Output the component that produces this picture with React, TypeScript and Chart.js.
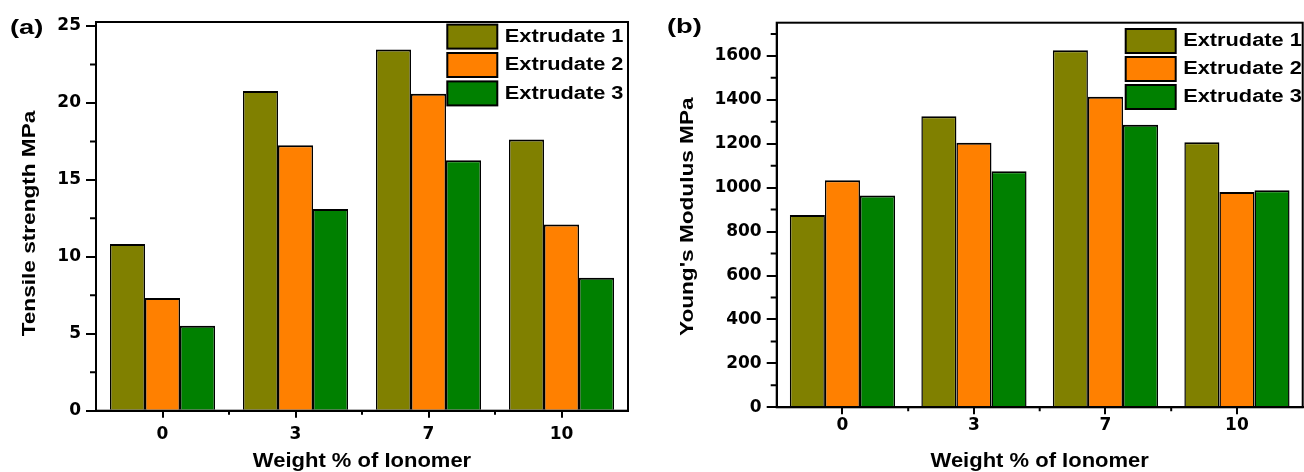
import React, { useEffect, useRef } from "react";
import { Chart, registerables } from "chart.js";
Chart.register(...registerables);

const CATEGORIES = ["0", "3", "7", "10"];
const SERIES_LABELS = ["Extrudate 1", "Extrudate 2", "Extrudate 3"];
const SERIES_COLORS = ["#808000", "#FF8000", "#008000"];

const TENSILE_EXTRUDATE_1 = [10.84, 20.78, 23.47, 17.62];
const TENSILE_EXTRUDATE_2 = [7.32, 17.25, 20.6, 12.1];
const TENSILE_EXTRUDATE_3 = [5.52, 13.1, 16.28, 8.64];
const TENSILE_TICKS = [0, 5, 10, 15, 20, 25];
const TENSILE_MINOR_TICKS = [2.5, 7.5, 12.5, 17.5, 22.5];

const MODULUS_EXTRUDATE_1 = [876, 1325, 1626, 1207];
const MODULUS_EXTRUDATE_2 = [1034, 1204, 1414, 980];
const MODULUS_EXTRUDATE_3 = [964, 1075, 1286, 988];
const MODULUS_TICKS = [0, 200, 400, 600, 800, 1000, 1200, 1400, 1600];
const MODULUS_MINOR_TICKS = [100, 300, 500, 700, 900, 1100, 1300, 1500, 1700];

const X_TITLE = "Weight % of Ionomer";
const FONT_FAMILY = "'Liberation Sans', Arial, sans-serif";
const TICK_FONT_FAMILY = "'DejaVu Sans', sans-serif";

function drawText(
  ctx: CanvasRenderingContext2D,
  text: string,
  x: number,
  y: number,
  size: number,
  stretch: number,
  align: CanvasTextAlign,
  rotation = 0
) {
  ctx.save();
  ctx.translate(x, y);
  ctx.rotate(rotation);
  ctx.scale(stretch, 1);
  ctx.font = `bold ${size}px ${FONT_FAMILY}`;
  ctx.fillStyle = "#000";
  ctx.textAlign = align;
  ctx.textBaseline = "middle";
  ctx.fillText(text, 0, 0);
  ctx.restore();
}

const decorPlugin = {
  id: "decor",
  afterDraw(chart: any, _args: any, o: any) {
    const { ctx, chartArea: a } = chart;
    const xs = chart.scales.x;
    const ys = chart.scales.y;
    ctx.save();
    ctx.strokeStyle = "#000";
    ctx.lineWidth = 2;
    ctx.strokeRect(a.left, a.top, a.right - a.left, a.bottom - a.top);
    ctx.beginPath();
    for (const v of o.yMinor) {
      const py = ys.getPixelForValue(v);
      ctx.moveTo(a.left - 6, py);
      ctx.lineTo(a.left, py);
    }
    const n = chart.data.labels.length;
    for (let i = 0; i < n - 1; i++) {
      const px = (xs.getPixelForValue(i) + xs.getPixelForValue(i + 1)) / 2;
      ctx.moveTo(px, a.bottom);
      ctx.lineTo(px, a.bottom + 4);
    }
    ctx.stroke();

    // legend
    chart.data.datasets.forEach((ds: any, i: number) => {
      const sx = a.right + o.legendDx;
      const sy = a.top + o.legendDy + i * o.legendStep;
      ctx.fillStyle = ds.backgroundColor;
      ctx.fillRect(sx, sy, 50, 24);
      ctx.lineWidth = 2;
      ctx.strokeStyle = "#000";
      ctx.strokeRect(sx, sy, 50, 24);
      drawText(ctx, ds.label, sx + 57.5, sy + 12.5, 18, 1.21, "left");
    });

    // axis titles
    drawText(ctx, o.yTitle, o.yTitleX, o.yTitleY, 19, 1.19, "center", -Math.PI / 2);
    drawText(ctx, X_TITLE, (a.left + a.right) / 2, o.xTitleY, 20, 1.1, "center");
    // panel label
    drawText(ctx, o.panel, o.panelX, o.panelY, 21, 1.3, "left");
    ctx.restore();
  },
};

function buildConfig(p: any) {
  return {
    type: "bar",
    data: {
      labels: CATEGORIES,
      datasets: p.series.map((vals: number[], i: number) => ({
        label: SERIES_LABELS[i],
        data: vals,
        backgroundColor: SERIES_COLORS[i],
        borderColor: "#000",
        borderWidth: { top: 2, left: 1.5, right: 1.5, bottom: 0 },
        borderSkipped: "start",
        barPercentage: 1,
        categoryPercentage: p.catPct,
      })),
    },
    options: {
      animation: false,
      responsive: false,
      devicePixelRatio: 1,
      layout: { padding: { left: 0, right: p.padRight, top: p.padTop, bottom: 0 } },
      plugins: {
        legend: { display: false },
        tooltip: { enabled: false },
        decor: p.decor,
      },
      scales: {
        x: {
          offset: true,
          grid: {
            display: true,
            drawOnChartArea: false,
            drawTicks: true,
            tickLength: 7,
            color: "#000",
            lineWidth: 2,
            offset: false,
          },
          border: { display: true, color: "#000", width: 2 },
          ticks: {
            color: "#000",
            padding: p.xTickPad,
            font: { family: TICK_FONT_FAMILY, size: 17, weight: "bold" },
            maxRotation: 0,
          },
          afterFit: (s: any) => {
            s.height = p.xHeight;
          },
        },
        y: {
          min: 0,
          max: p.yMax,
          grid: {
            display: true,
            drawOnChartArea: false,
            drawTicks: true,
            tickLength: 10,
            color: "#000",
            lineWidth: 2,
          },
          border: { display: true, color: "#000", width: 2 },
          ticks: {
            color: "#000",
            padding: 5,
            font: { family: TICK_FONT_FAMILY, size: 17, weight: "bold" },
            callback: (v: any) => String(v),
          },
          afterBuildTicks: (s: any) => {
            s.ticks = p.yTicks.map((v: number) => ({ value: v }));
          },
          afterFit: (s: any) => {
            s.width = p.yWidth;
          },
        },
      },
    },
    plugins: [decorPlugin],
  };
}

function Panel(props: { left: number; params: any }) {
  const ref = useRef<HTMLCanvasElement | null>(null);
  useEffect(() => {
    if (!ref.current) return;
    const chart = new Chart(ref.current, buildConfig(props.params) as any);
    return () => chart.destroy();
  }, []);
  return (
    <canvas
      ref={ref}
      width={652}
      height={472}
      style={{ position: "absolute", left: props.left, top: 0, width: 652, height: 472, display: "block" }}
    />
  );
}

export default function App() {
  const tensile = {
    series: [TENSILE_EXTRUDATE_1, TENSILE_EXTRUDATE_2, TENSILE_EXTRUDATE_3],
    yTicks: TENSILE_TICKS,
    yMax: 25.26,
    catPct: 0.79,
    padRight: 24,
    padTop: 22,
    yWidth: 96,
    xHeight: 61.3,
    xTickPad: 7,
    decor: {
      yMinor: TENSILE_MINOR_TICKS,
      legendDx: -180.7,
      legendDy: 2.6,
      legendStep: 28.4,
      yTitle: "Tensile strength MPa",
      yTitleX: 30,
      yTitleY: 223.5,
      xTitleY: 461,
      panel: "(a)",
      panelX: 10,
      panelY: 28.5,
    },
  };
  const modulus = {
    series: [MODULUS_EXTRUDATE_1, MODULUS_EXTRUDATE_2, MODULUS_EXTRUDATE_3],
    yTicks: MODULUS_TICKS,
    yMax: 1751,
    catPct: 0.8,
    padRight: 1.3,
    padTop: 22.7,
    yWidth: 124.7,
    xHeight: 64.7,
    xTickPad: 1,
    decor: {
      yMinor: MODULUS_MINOR_TICKS,
      legendDx: -177,
      legendDy: 6.3,
      legendStep: 28,
      yTitle: "Young's Modulus MPa",
      yTitleX: 35.5,
      yTitleY: 216.7,
      xTitleY: 461,
      panel: "(b)",
      panelX: 15,
      panelY: 27.5,
    },
  };
  return (
    <div style={{ position: "absolute", left: 0, top: 0, width: 1304, height: 472, background: "#fff" }}>
      <Panel left={0} params={tensile} />
      <Panel left={652} params={modulus} />
    </div>
  );
}
